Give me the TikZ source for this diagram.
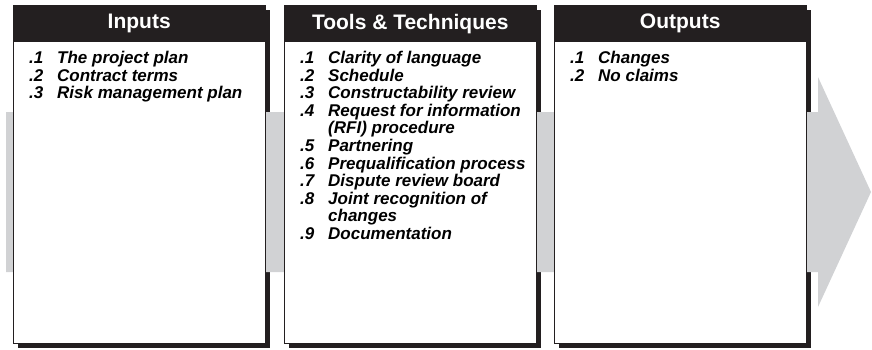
\documentclass[tikz,border=0pt]{standalone}
\usepackage{fontspec}
\setmainfont{Liberation Sans}
\usepackage{tikz}
\usetikzlibrary{positioning}
\definecolor{bandgray}{RGB}{209, 210, 212}
\definecolor{headblack}{RGB}{35, 31, 32}
\newcommand{\itemno}[1]{\makebox[28pt][l]{#1}}
\newcommand{\itemgap}{\hspace*{28pt}}

\begin{document}
\begin{tikzpicture}[
    x=1pt, y=-1pt,
    shadowbox/.style={rectangle, fill=headblack, draw=none, minimum width=252pt, minimum height=338pt, anchor=north west, inner sep=0pt},
    panel/.style={rectangle, draw=headblack, line width=0.9pt, fill=white, minimum width=252pt, minimum height=338pt, anchor=north west, inner sep=0pt},
    headbar/.style={rectangle, fill=headblack, minimum width=252pt, minimum height=37pt, anchor=north west, inner sep=0pt, text=white, font=\fontsize{21}{24}\selectfont\bfseries},
    itemlist/.style={anchor=north west, inner sep=0pt, align=left, font=\fontsize{17}{17.6}\selectfont\bfseries\itshape},
    band/.style={fill=bandgray, draw=none}
]
    \useasboundingbox (0,0) rectangle (872,349);

    % Shadows behind the three panels
    \node[shadowbox] (inputsshadow) at (17.5,9.5) {};
    \node[shadowbox] (toolsshadow) at (288.5,9.5) {};
    \node[shadowbox] (outputsshadow) at (558.5,9.5) {};

    % Gray flow arrow
    \fill[band] (6,112) -- (818,112) -- (818,77) -- (871,192) -- (818,307) -- (818,272) -- (6,272) -- cycle;

    % Panels
    \node[panel] (inputs) at (13,5) {};
    \node[panel] (tools) at (284,5) {};
    \node[panel] (outputs) at (554,5) {};

    % Headers
    \node[headbar] (inputshead) at (inputs.north west) {Inputs};
    \node[headbar] (toolshead) at (tools.north west) {Tools \& Techniques};
    \node[headbar] (outputshead) at (outputs.north west) {Outputs};

    % Lists
    \node[itemlist, below right=8.5pt and 16pt of inputshead.south west] (inputslist) {%
        \itemno{.1}The project plan\\
        \itemno{.2}Contract terms\\
        \itemno{.3}Risk management plan};
    \node[itemlist, below right=8.5pt and 16pt of toolshead.south west] (toolslist) {%
        \itemno{.1}Clarity of language\\
        \itemno{.2}Schedule\\
        \itemno{.3}Constructability review\\
        \itemno{.4}Request for information\\
        \itemgap(RFI) procedure\\
        \itemno{.5}Partnering\\
        \itemno{.6}Prequalification process\\
        \itemno{.7}Dispute review board\\
        \itemno{.8}Joint recognition of\\
        \itemgap changes\\
        \itemno{.9}Documentation};
    \node[itemlist, below right=8.5pt and 16pt of outputshead.south west] (outputslist) {%
        \itemno{.1}Changes\\
        \itemno{.2}No claims};
\end{tikzpicture}
\end{document}
